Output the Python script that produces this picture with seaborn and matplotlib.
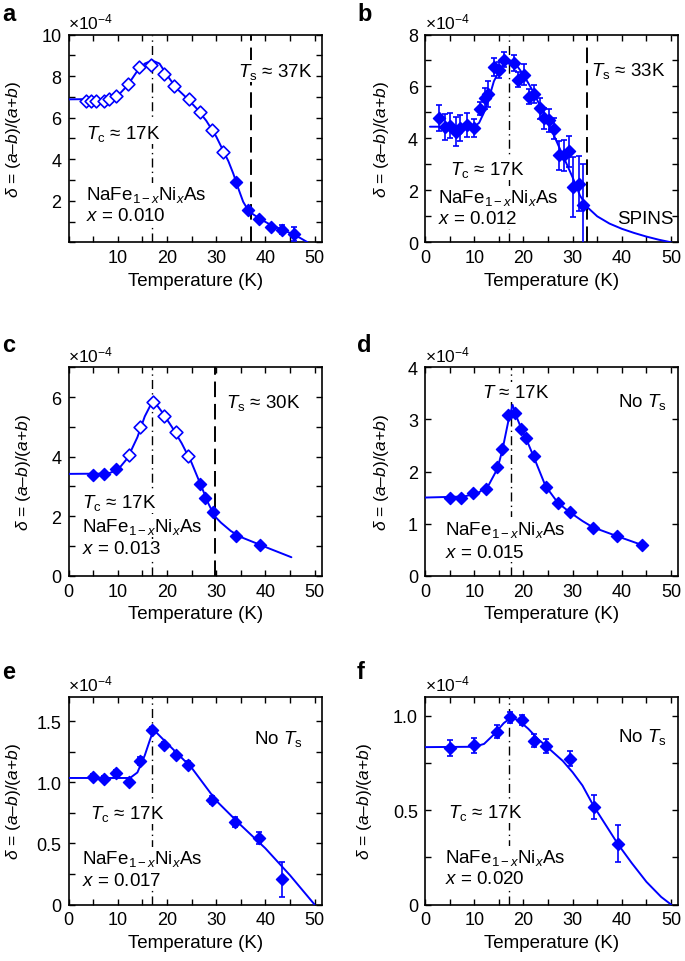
import matplotlib
matplotlib.use("Agg")
import matplotlib.pyplot as plt
import seaborn as sns
import pandas as pd
from matplotlib.ticker import FixedLocator, FixedFormatter, MultipleLocator

# ---------------- data ----------------
panel_letters = ["a", "b", "c", "d", "e", "f"]
compositions = ["0.010", "0.012", "0.013", "0.015", "0.017", "0.020"]
tc_lines = [17, 17, 17, 17.5, 17, 17]
ts_lines = [37, 33, 29.7, None, None, None]

a_T = [3.6, 4.6, 5.6, 7.3, 8.3, 9.7, 12.0, 14.4, 16.8, 19.5, 21.5, 24.4, 26.7, 29.2, 31.5,
       34.1, 36.4, 38.8, 41.2, 43.4, 45.9]
a_delta = [6.8, 6.8, 6.8, 6.82, 6.88, 7.04, 7.6, 8.45, 8.51, 8.08, 7.52, 6.88, 6.27, 5.41, 4.35,
           2.91, 1.57, 1.12, 0.75, 0.61, 0.4]
a_err = [0.1, 0.1, 0.1, 0.1, 0.1, 0.1, 0.1, 0.1, 0.1, 0.1, 0.1, 0.1, 0.1, 0.1, 0.1,
         0.1, 0.1, 0.12, 0.15, 0.2, 0.32]
a_filled = [False, False, False, False, False, False, False, False, False, False,
            False, False, False, False, False, True, True, True, True, True, True]
a_fit_T = [0, 8, 10, 12, 14, 15.5, 17, 18.5, 20, 22, 24, 26, 28, 30, 31.5, 32.5, 33.5, 34.5,
           35.5, 36.5, 37.5, 39, 41, 43, 45, 47, 48.6]
a_fit_delta = [6.88, 6.9, 7.05, 7.55, 8.25, 8.6, 8.75, 8.6, 8.05, 7.4, 6.95, 6.45, 5.85, 5.1,
               4.38, 3.9, 3.3, 2.6, 1.95, 1.55, 1.35, 1.12, 0.85, 0.65, 0.45, 0.22, 0.0]

b_T = [2.9, 4.1, 5.1, 6.3, 7.1, 8.6, 10.0, 11.1, 12.1, 12.9, 14.1, 15.1, 16.1, 18.0, 19.0,
       20.1, 21.1, 22.1, 23.3, 24.2, 25.2, 26.2, 27.2, 28.2, 29.2, 30.1, 31.3, 32.2]
b_delta = [4.77, 4.45, 4.49, 4.26, 4.39, 4.52, 4.41, 5.15, 5.55, 5.72, 6.74, 6.64, 7.03, 6.9,
           6.26, 6.45, 5.61, 5.7, 5.16, 4.77, 4.7, 4.38, 3.35, 3.35, 3.5, 2.13, 2.26, 1.42]
b_err = [0.5, 0.5, 0.48, 0.55, 0.5, 0.45, 0.35, 0.25, 0.4, 0.5, 0.35, 0.3, 0.3, 0.3, 0.3,
         0.4, 0.3, 0.35, 0.4, 0.4, 0.45, 0.4, 0.55, 0.6, 0.6, 1.15, 1.05, 1.6]
b_filled = [True, True, True, True, True, True, True, True, True, True, True, True, True, True,
            True, True, True, True, True, True, True, True, True, True, True, True, True, True]
b_fit_T = [1, 10, 11, 12, 13, 14, 15.5, 17, 18.5, 20, 22, 24, 26, 28, 30, 31.5, 33, 35, 37.5,
           40, 42.5, 45, 47.5, 50]
b_fit_delta = [4.45, 4.45, 4.6, 5.0, 5.55, 6.2, 6.75, 7.0, 6.85, 6.45, 5.8, 5.0, 4.2, 3.35,
               2.5, 1.8, 1.35, 1.0, 0.72, 0.52, 0.36, 0.22, 0.1, 0.0]

c_T = [4.9, 7.3, 9.7, 12.2, 14.5, 17.1, 19.5, 21.8, 24.3, 26.8, 27.7, 29.3, 34.1, 38.9]
c_delta = [3.39, 3.42, 3.59, 4.06, 5.0, 5.85, 5.36, 4.82, 4.01, 3.08, 2.6, 2.15, 1.35, 1.03]
c_err = [0.05, 0.05, 0.05, 0.05, 0.05, 0.05, 0.05, 0.05, 0.05, 0.05, 0.05, 0.05, 0.05, 0.05]
c_filled = [True, True, True, False, False, False, False, False, False, True, True, True, True, True]
c_fit_T = [0, 8, 10, 12, 14, 15.5, 17.2, 19, 21, 23, 25, 27, 28.5, 29.7, 31, 33, 35, 38, 41, 45.3]
c_fit_delta = [3.42, 3.43, 3.55, 3.95, 4.65, 5.35, 5.9, 5.5, 5.0, 4.45, 3.8, 3.0, 2.4, 2.0,
               1.78, 1.5, 1.3, 1.1, 0.9, 0.62]

d_T = [5.1, 7.3, 9.8, 12.3, 14.7, 15.7, 16.9, 18.2, 19.6, 20.6, 22.1, 24.5, 27.0, 29.4, 34.1,
       39.0, 44.1]
d_delta = [1.49, 1.49, 1.59, 1.66, 2.08, 2.43, 3.09, 3.12, 2.82, 2.64, 2.29, 1.70, 1.40, 1.23,
           0.92, 0.76, 0.59]
d_err = [0.04, 0.04, 0.04, 0.04, 0.04, 0.04, 0.04, 0.04, 0.04, 0.04, 0.04, 0.04, 0.04, 0.04,
         0.04, 0.04, 0.04]
d_filled = [True, True, True, True, True, True, True, True, True, True, True, True, True, True,
            True, True, True]
d_fit_T = [0, 8, 11, 13, 14.7, 15.7, 16.9, 17.8, 18.6, 19.6, 20.6, 22.1, 24.5, 27, 29.4, 32,
           34.1, 39, 44.1]
d_fit_delta = [1.5, 1.52, 1.6, 1.75, 2.05, 2.4, 2.95, 3.28, 3.05, 2.82, 2.62, 2.28, 1.72, 1.4,
               1.22, 1.05, 0.93, 0.76, 0.59]

e_T = [4.9, 7.3, 9.7, 12.2, 14.5, 16.9, 19.4, 21.8, 24.2, 29.1, 33.9, 38.7, 43.4]
e_delta = [1.044, 1.028, 1.072, 1.004, 1.173, 1.424, 1.304, 1.222, 1.145, 0.854, 0.674, 0.545, 0.205]
e_err = [0.025, 0.025, 0.025, 0.025, 0.03, 0.025, 0.025, 0.025, 0.025, 0.035, 0.04, 0.05, 0.14]
e_filled = [True, True, True, True, True, True, True, True, True, True, True, True, True]
e_fit_T = [0, 12.5, 14, 15.5, 16.5, 17.3, 20, 25, 30, 35, 40, 45, 50]
e_fit_delta = [1.035, 1.035, 1.08, 1.22, 1.34, 1.43, 1.32, 1.12, 0.85, 0.65, 0.46, 0.24, 0.0]

f_T = [5.1, 9.9, 14.7, 17.2, 19.7, 22.1, 24.5, 29.5, 34.3, 39.2]
f_delta = [0.829, 0.842, 0.915, 0.991, 0.977, 0.868, 0.838, 0.771, 0.516, 0.322]
f_err = [0.042, 0.04, 0.033, 0.03, 0.027, 0.035, 0.037, 0.04, 0.062, 0.097]
f_filled = [True, True, True, True, True, True, True, True, True, True]
f_fit_T = [0, 10, 12, 14, 16, 17.5, 19, 21, 23, 25, 28, 30, 32, 34.3, 37, 39.2, 42, 45, 48, 50]
f_fit_delta = [0.833, 0.835, 0.85, 0.9, 0.96, 0.99, 0.975, 0.93, 0.875, 0.83, 0.76, 0.70, 0.63,
               0.52, 0.41, 0.32, 0.22, 0.12, 0.04, 0.0]

# axis ticks / limits
y_limits = [(0, 10), (0, 8), (0, 7), (0, 4), (0, 1.7), (0, 1.1)]
y_ticks = [[2, 4, 6, 8, 10], [0, 2, 4, 6, 8], [0, 2, 4, 6], [0, 1, 2, 3, 4],
           [0, 0.5, 1.0, 1.5], [0, 0.5, 1.0]]
y_ticklabels = [["2", "4", "6", "8", "10"], ["0", "2", "4", "6", "8"], ["0", "2", "4", "6"],
                ["0", "1", "2", "3", "4"], ["0", "0.5", "1.0", "1.5"], ["0", "0.5", "1.0"]]
y_minor = [1, 1, 1, None, 0.25, 0.25]
x_ticks = [[10, 20, 30, 40, 50], [0, 10, 20, 30, 40, 50], [0, 10, 20, 30, 40, 50],
           [0, 10, 20, 30, 40, 50], [0, 10, 20, 30, 40, 50], [0, 10, 20, 30, 40, 50]]

# ---------------- style ----------------
sns.set_theme(style="ticks")
plt.rcParams["font.family"] = ["Liberation Sans", "DejaVu Sans"]
plt.rcParams["mathtext.fontset"] = "custom"
plt.rcParams["mathtext.rm"] = "Liberation Sans"
plt.rcParams["mathtext.it"] = "Liberation Sans:italic"
plt.rcParams["mathtext.bf"] = "Liberation Sans:bold"
plt.rcParams["text.color"] = "black"
plt.rcParams["axes.labelcolor"] = "black"
plt.rcParams["xtick.color"] = "black"
plt.rcParams["ytick.color"] = "black"

BLUE = "#0000ff"
W, H = 685, 962
fig = plt.figure(figsize=(W / 100, H / 100), dpi=100)

col_left = [68.5, 425]
row_top = [35.5, 368.3, 697.7]
row_bottom = [243.3, 576.7, 905.5]
ax_w = 253.4

panels = [
    (a_T, a_delta, a_err, a_filled, a_fit_T, a_fit_delta),
    (b_T, b_delta, b_err, b_filled, b_fit_T, b_fit_delta),
    (c_T, c_delta, c_err, c_filled, c_fit_T, c_fit_delta),
    (d_T, d_delta, d_err, d_filled, d_fit_T, d_fit_delta),
    (e_T, e_delta, e_err, e_filled, e_fit_T, e_fit_delta),
    (f_T, f_delta, f_err, f_filled, f_fit_T, f_fit_delta),
]

# annotation placement (data coords)
tc_text_pos = [(3.6, 5.28), (5.1, 2.84), (2.7, 2.49), (11.5, 3.52), (4.4, 0.75), (4.7, 0.49)]
name_pos = [(3.6, 2.32), (2.7, 1.74), (2.7, 1.68), (4.05, 0.9), (2.7, 0.38), (4.05, 0.25)]
comp_pos = [(3.6, 1.28), (2.7, 0.9), (2.7, 0.9), (4.05, 0.45), (2.7, 0.2), (4.05, 0.137)]
ts_text_pos = [(34.4, 8.24), (33.8, 6.65), (32.1, 5.83), (39.2, 3.36), (37.8, 1.36), (39.2, 0.89)]
# right edge of the rotated y label, in axes fraction
ylabel_x = [-0.18, -0.134, -0.14, -0.134, -0.18, -0.2]

FS = 13.5
for i, (T, dl, er, filled, fT, fd) in enumerate(panels):
    r, c = divmod(i, 2)
    left = col_left[c] / W
    bottom = 1 - row_bottom[r] / H
    height = (row_bottom[r] - row_top[r]) / H
    ax = fig.add_axes([left, bottom, ax_w / W, height])

    df = pd.DataFrame({"T": T, "delta": dl, "err": er, "filled": filled})
    fit = pd.DataFrame({"T": fT, "delta": fd})

    # vertical guide lines
    ax.axvline(tc_lines[i], color="black", lw=1.0, ls=(0, (6.5, 3, 1, 3)), zorder=1)
    if ts_lines[i] is not None:
        ax.axvline(ts_lines[i], color="black", lw=1.4, ls=(0, (8, 3.5)), zorder=1)

    # fitted curve
    sns.lineplot(data=fit, x="T", y="delta", ax=ax, color=BLUE, lw=1.4,
                 estimator=None, sort=False, zorder=4)

    # error bars
    ax.errorbar(df["T"], df["delta"], yerr=df["err"], fmt="none", ecolor=BLUE,
                elinewidth=1.2, capsize=2.5, capthick=1.2, zorder=5)
    # markers
    dff = df[df["filled"]]
    dfo = df[~df["filled"]]
    if len(dff):
        sns.scatterplot(data=dff, x="T", y="delta", ax=ax, marker="D", s=38,
                        color=BLUE, edgecolor=BLUE, linewidth=1.0, zorder=6, legend=False)
    if len(dfo):
        sns.scatterplot(data=dfo, x="T", y="delta", ax=ax, marker="D", s=42,
                        facecolor="white", edgecolor=BLUE, linewidth=1.2, zorder=6, legend=False)

    # limits and ticks
    ax.set_xlim(0, 51.5)
    ax.set_ylim(*y_limits[i])
    ax.xaxis.set_major_locator(FixedLocator(x_ticks[i]))
    ax.xaxis.set_major_formatter(FixedFormatter([str(v) for v in x_ticks[i]]))
    ax.xaxis.set_minor_locator(MultipleLocator(5))
    ax.yaxis.set_major_locator(FixedLocator(y_ticks[i]))
    ax.yaxis.set_major_formatter(FixedFormatter(y_ticklabels[i]))
    if y_minor[i] is not None:
        ax.yaxis.set_minor_locator(MultipleLocator(y_minor[i]))
    ax.tick_params(which="both", direction="in", top=True, right=True, length=4,
                   width=1.0, color="black", labelsize=13, pad=5, labelcolor="black")
    for sp in ax.spines.values():
        sp.set_visible(True)
        sp.set_linewidth(1.2)
        sp.set_color("black")

    ax.set_xlabel("Temperature (K)", fontsize=FS, labelpad=4, color="black")
    ax.set_ylabel(r"$\delta$ = ($a$–$b$)/($a$+$b$)", fontsize=12.5, color="black")
    ax.yaxis.set_label_coords(ylabel_x[i], 0.5)

    # multiplier
    ax.text(0.0, 1.015, r"×10$^{-4}$", transform=ax.transAxes, ha="left", va="bottom",
            fontsize=12.5, color="black")

    bbox = dict(facecolor="white", edgecolor="none", pad=1.0)
    if i == 3:
        ax.text(*tc_text_pos[i], r"$T$ ≈ 17K", fontsize=FS, va="center", ha="left",
                bbox=bbox, zorder=2, color="black")
    else:
        ax.text(*tc_text_pos[i], r"$T_{\rm c}$ ≈ 17K", fontsize=FS, va="center", ha="left",
                bbox=bbox, zorder=2, color="black")
    ax.text(*name_pos[i], r"NaFe$_{1-x}$Ni$_{x}$As", fontsize=FS, va="center", ha="left",
            bbox=bbox, zorder=2, color="black")
    ax.text(*comp_pos[i], r"$x$ = " + compositions[i], fontsize=FS, va="center", ha="left",
            bbox=bbox, zorder=2, color="black")
    if ts_lines[i] is not None:
        ax.text(*ts_text_pos[i], r"$T_{\rm s}$ ≈ %dK" % round(ts_lines[i]), fontsize=FS,
                va="center", ha="left", bbox=bbox, zorder=2, color="black")
    else:
        ax.text(*ts_text_pos[i], r"No $T_{\rm s}$", fontsize=FS, va="center", ha="left",
                zorder=2, color="black")
    if i == 1:
        ax.text(50.6, 0.9, "SPINS", fontsize=FS, va="center", ha="right", zorder=2,
                color="black")

    # panel letter
    lx = 2 if c == 0 else 357
    ly = [21, 352, 679][r]
    fig.text(lx / W, 1 - ly / H, panel_letters[i], fontsize=17, fontweight="bold",
             ha="left", va="baseline", color="black")

fig.savefig("out.png", dpi=100)
